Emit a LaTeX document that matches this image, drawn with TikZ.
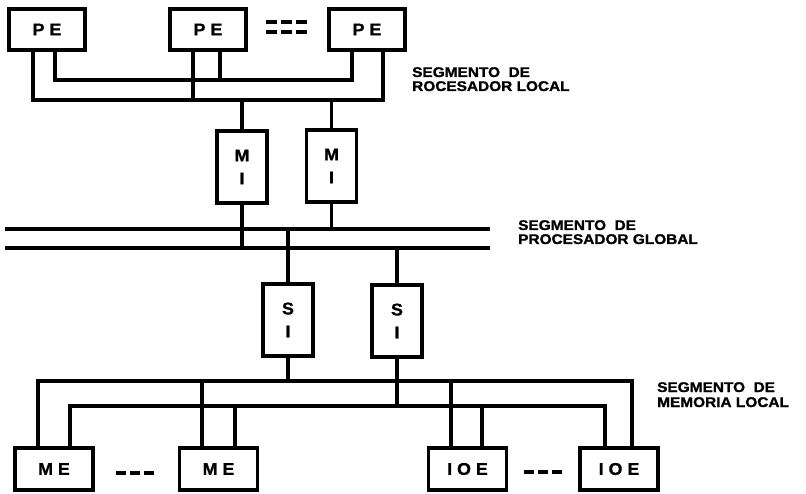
\documentclass[tikz,border=0pt]{standalone}
\usepackage{fontspec}
\newfontfamily\lblfont[FakeStretch=1.1, FakeBold=1.3]{Liberation Sans}
\newfontfamily\boxfont[FakeStretch=1.05, FakeBold=1]{Liberation Sans}
\begin{document}
\begin{tikzpicture}[x=1pt,y=-1pt,
  box/.style={draw, line width=3.2pt, inner sep=0pt, outer sep=0pt,
    font=\boxfont\bfseries\fontsize{17}{23}\selectfont},
  hbox/.style={box, minimum width=76pt, minimum height=41pt},
  vbox/.style={box, minimum width=50pt, minimum height=72pt, align=center},
  bus/.style={line width=3.2pt, line join=miter},
  lbl/.style={anchor=base west, inner sep=0pt,
    font=\lblfont\bfseries\fontsize{14}{14}\selectfont},
  dots/.style={line width=4.5pt, dash pattern=on 10pt off 4pt}]
\useasboundingbox (0,0) rectangle (806,494);

% processing elements
\node[hbox] (pe1) at (47,29.5) {P E};
\node[hbox] (pe2) at (208,29.5) {P E};
\node[hbox] (pe3) at (367,29.5) {P E};
% interfaces
\node[vbox] (mi1) at (242,167) {M\\I};
\node[vbox] (mi2) at (331.5,166) {M\\I};
\node[vbox] (si1) at (288,320) {S\\I};
\node[vbox] (si2) at (397,321) {S\\I};
% memory and io elements
\node[hbox, minimum width=78pt, minimum height=42pt] (me1) at (54,469) {M E};
\node[hbox, minimum width=78pt, minimum height=42pt] (me2) at (218.5,469) {M E};
\node[hbox, minimum width=78pt, minimum height=42pt] (ioe1) at (467.5,469) {I O E};
\node[hbox, minimum width=78pt, minimum height=42pt] (ioe2) at (619,469) {I O E};

% local processor segment
\coordinate (b1l) at (33,100); \coordinate (b1r) at (383,100);
\coordinate (b2l) at (55,80);  \coordinate (b2r) at (352,80);
\draw[bus] (pe1.south -| b1l) -- (b1l) -- (b1r) -- (pe3.south -| b1r);
\draw[bus] (pe1.south -| b2l) -- (b2l) -- (b2r) -- (pe3.south -| b2r);
\draw[bus] ([xshift=-15pt]pe2.south) -- ([xshift=-15pt]pe2.south |- b1l);
\draw[bus] ([xshift=12pt]pe2.south) -- ([xshift=12pt]pe2.south |- b2l);
\draw[bus] (mi1.north) -- (mi1.north |- b1l);
\draw[bus] (mi2.north) -- (mi2.north |- b1l);

% global processor segment
\coordinate (g1l) at (5,229); \coordinate (g1r) at (490,229);
\coordinate (g2l) at (5,248); \coordinate (g2r) at (490,248);
\draw[bus] (g1l) -- (g1r);
\draw[bus] (g2l) -- (g2r);
\draw[bus] (mi1.south) -- (mi1.south |- g2l);
\draw[bus] (mi2.south) -- (mi2.south |- g1l);
\draw[bus] (si1.north) -- (si1.north |- g1l);
\draw[bus] (si2.north) -- (si2.north |- g2l);

% local memory segment
\coordinate (m1l) at (38,381); \coordinate (m1r) at (632,381);
\coordinate (m2l) at (70,406); \coordinate (m2r) at (605,406);
\draw[bus] (me1.north -| m1l) -- (m1l) -- (m1r) -- (ioe2.north -| m1r);
\draw[bus] (me1.north -| m2l) -- (m2l) -- (m2r) -- (ioe2.north -| m2r);
\draw[bus] ([xshift=-16.5pt]me2.north) -- ([xshift=-16.5pt]me2.north |- m1l);
\draw[bus] ([xshift=16.5pt]me2.north) -- ([xshift=16.5pt]me2.north |- m2l);
\draw[bus] ([xshift=-16.5pt]ioe1.north) -- ([xshift=-16.5pt]ioe1.north |- m1l);
\draw[bus] ([xshift=14.5pt]ioe1.north) -- ([xshift=14.5pt]ioe1.north |- m2l);
\draw[bus] (si1.south) -- (si1.south |- m1l);
\draw[bus] (si2.south) -- (si2.south |- m2l);

% ellipsis marks
\draw[dots, dash pattern=on 11pt off 4pt] (266,22) -- (307,22);
\draw[dots, dash pattern=on 11pt off 4pt] (266,32) -- (307,32);
\draw[dots] (116,473) -- (154,473);
\draw[dots] (524,472) -- (562,472);

% labels
\node[lbl] (s1a) at (412,77) {SEGMENTO\ \ DE};
\node[lbl] (s1b) at (412,91) {ROCESADOR LOCAL};
\node[lbl] (s2a) at (518,230) {SEGMENTO\ \ DE};
\node[lbl] (s2b) at (518,244) {PROCESADOR GLOBAL};
\node[lbl] (s3a) at (657,392) {SEGMENTO\ \ DE};
\node[lbl] (s3b) at (657,407) {MEMORIA LOCAL};
\end{tikzpicture}
\end{document}
